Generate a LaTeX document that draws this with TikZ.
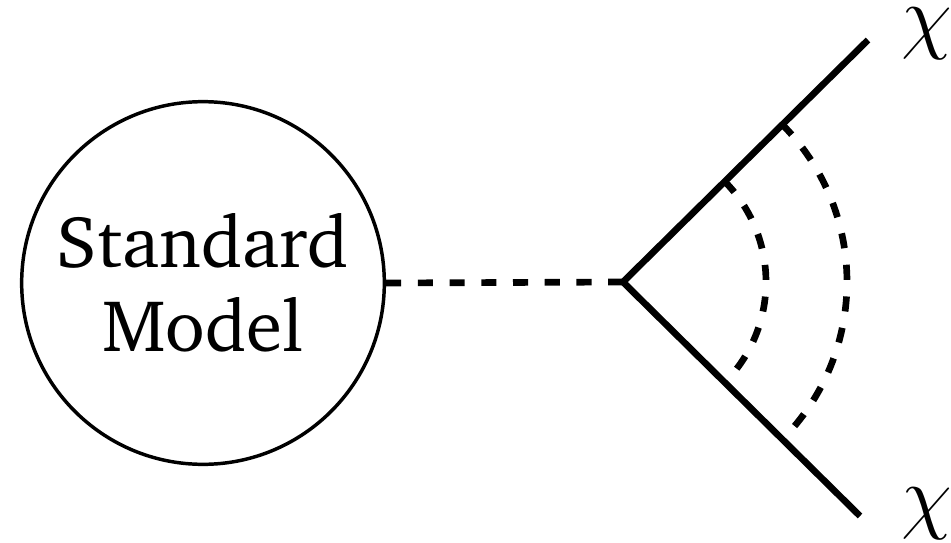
\documentclass[tikz,border=0pt]{standalone}
\usepackage{fix-cm}
\usepackage[T1]{fontenc}
\usepackage{charter}
\begin{document}
\begin{tikzpicture}[x=0.75pt,y=-0.75pt,
  heavy/.style={line width=5pt},
  prop/.style={line width=5pt, dash pattern=on 11.3pt off 12.5pt},
  blob/.style={circle, draw, line width=2.6pt, minimum size=272pt, inner sep=0pt,
    align=center, font=\fontsize{55}{63}\selectfont},
  label/.style={inner sep=0pt, font=\fontsize{62}{64}\selectfont}]
\useasboundingbox (0,0) rectangle (951,543);

% the Standard Model blob
\node[blob] (sm) at (203,283) {Standard\\Model};

% vertex and the two outgoing dark-matter lines
\coordinate (v) at (623,282);
\coordinate (top) at (868,40);
\coordinate (bot) at (860,516);
\draw[heavy] (top) -- (v) -- (bot);

% mediator from the blob to the vertex
\draw[prop] (sm.east) -- (v);

% exchange lines between the two final states
\draw[prop] (v) ++(-45:143) arc[start angle=-45, end angle=45, radius=143];
\draw[prop] (v) ++(-45:224) arc[start angle=-45, end angle=45, radius=224];

% particle labels
\node[label] (chi1) at (927,34) {$\chi$};
\node[label] (chi2) at (927,514) {$\chi$};
\end{tikzpicture}
\end{document}
